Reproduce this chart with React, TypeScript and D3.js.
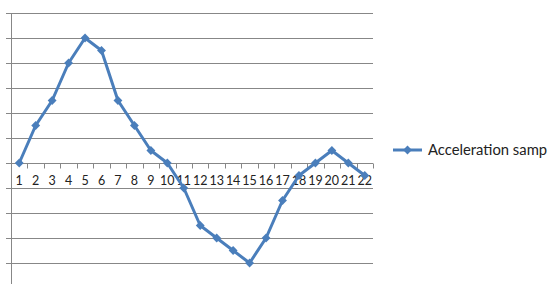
import * as d3 from 'd3';
import { useEffect, useRef } from 'react';

const categories = ['1', '2', '3', '4', '5', '6', '7', '8', '9', '10', '11', '12', '13', '14', '15', '16', '17', '18', '19', '20', '21', '22'];
const accelerationValues = [0, 1.5, 2.5, 4, 5, 4.5, 2.5, 1.5, 0.5, 0, -1, -2.5, -3, -3.5, -4, -3, -1.5, -0.5, 0, 0.5, 0, -0.5];
const yTicks = [-5, -4, -3, -2, -1, 0, 1, 2, 3, 4, 5, 6];
const seriesName = 'Acceleration samp';

const App = () => {
  const ref = useRef<SVGSVGElement>(null);
  const width = 548;
  const height = 284;

  useEffect(() => {
    const svg = d3.select(ref.current);
    svg.selectAll('*').remove();

    const left = 11;
    const right = 373;
    const top = 13;
    const bottom = 288;
    const blue = '#4A7EBB';
    const grid = '#878787';

    const x = d3.scaleBand().domain(categories).range([left, right]).padding(0);
    const y = d3.scaleLinear().domain([-5, 6]).range([bottom, top]);

    // gridlines
    svg
      .append('g')
      .selectAll('line')
      .data(yTicks)
      .enter()
      .append('line')
      .attr('x1', left - 5)
      .attr('x2', right)
      .attr('y1', (d) => Math.round(y(d)) + 0.5)
      .attr('y2', (d) => Math.round(y(d)) + 0.5)
      .attr('stroke', grid)
      .attr('stroke-width', 1);

    // vertical axis
    svg
      .append('line')
      .attr('x1', left + 0.5)
      .attr('x2', left + 0.5)
      .attr('y1', top)
      .attr('y2', bottom)
      .attr('stroke', grid);

    // category axis at zero
    const y0 = Math.round(y(0)) + 0.5;
    const bounds = categories.map((c) => x(c) as number).concat([right]);
    svg
      .append('g')
      .selectAll('line')
      .data(bounds)
      .enter()
      .append('line')
      .attr('x1', (d) => Math.round(d) + 0.5)
      .attr('x2', (d) => Math.round(d) + 0.5)
      .attr('y1', y0)
      .attr('y2', y0 + 5)
      .attr('stroke', grid);

    svg
      .append('g')
      .attr('font-family', 'Lato, "Open Sans", sans-serif')
      .attr('font-size', 12.5)
      .attr('fill', '#222')
      .attr('text-anchor', 'middle')
      .selectAll('text')
      .data(categories)
      .enter()
      .append('text')
      .attr('x', (d) => (x(d) as number) + x.bandwidth() / 2)
      .attr('y', y0 + 21)
      .text((d) => d);

    const line = d3
      .line<number>()
      .x((d, i) => (x(categories[i]) as number) + x.bandwidth() / 2)
      .y((d) => y(d));

    svg
      .append('path')
      .datum(accelerationValues)
      .attr('d', line)
      .attr('fill', 'none')
      .attr('stroke', blue)
      .attr('stroke-width', 3)
      .attr('stroke-linejoin', 'round');

    const diamond = d3.symbol().type(d3.symbolDiamond2).size(50);
    svg
      .append('g')
      .selectAll('path')
      .data(accelerationValues)
      .enter()
      .append('path')
      .attr('d', diamond)
      .attr('transform', (d, i) => 'translate(' + ((x(categories[i]) as number) + x.bandwidth() / 2) + ',' + y(d) + ')')
      .attr('fill', blue);

    // legend
    const legend = svg.append('g').attr('transform', 'translate(393,150)');
    legend
      .append('line')
      .attr('x1', 0)
      .attr('x2', 29)
      .attr('stroke', blue)
      .attr('stroke-width', 3);
    legend
      .append('path')
      .attr('d', diamond)
      .attr('transform', 'translate(14.5,0)')
      .attr('fill', blue);
    legend
      .append('text')
      .attr('x', 35)
      .attr('y', 5)
      .attr('font-family', 'Lato, "Open Sans", sans-serif')
      .attr('font-size', 14.8)
      .attr('fill', '#222')
      .text(seriesName);
  }, []);

  return (
    <svg
      ref={ref}
      width={width}
      height={height}
      style={{ position: 'absolute', left: 0, top: 0, background: '#fff', overflow: 'hidden' }}
    ></svg>
  );
};

export default App;
